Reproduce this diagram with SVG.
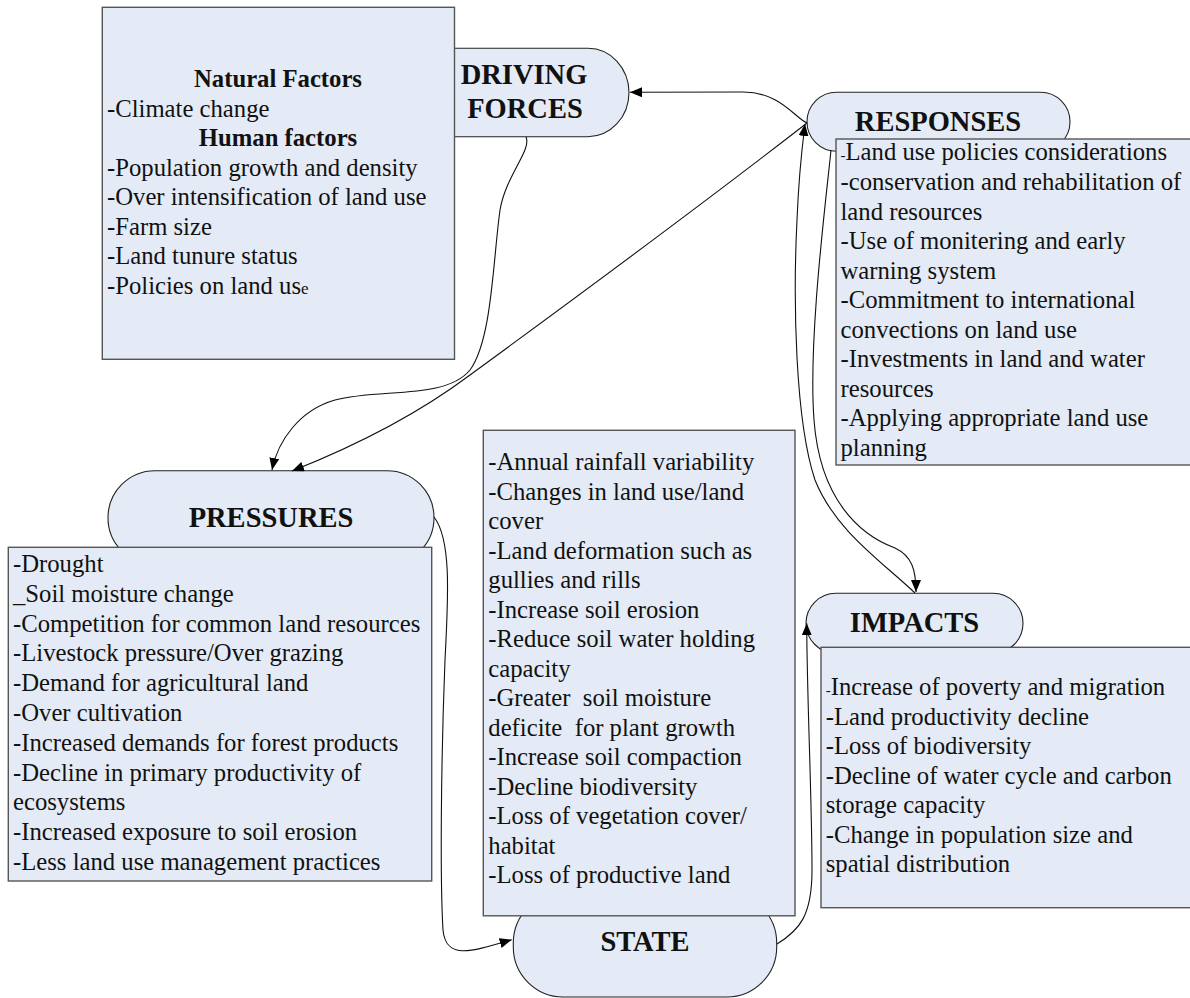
<svg xmlns="http://www.w3.org/2000/svg" width="1190" height="998" viewBox="0 0 1190 998">
<style>
  .shape{fill:#E4EBF6;stroke:#222;stroke-width:1.1}
  .box{fill:#E4EBF6;stroke:#555;stroke-width:1.4}
  .t{font-family:'Liberation Serif','Times New Roman',serif;fill:#111;font-size:24.7px;white-space:pre}
  .h{font-family:'Liberation Serif','Times New Roman',serif;fill:#111;font-size:24.7px;font-weight:bold;text-anchor:middle}
  .title{font-family:'Liberation Serif','Times New Roman',serif;fill:#111;font-size:28.5px;font-weight:bold;text-anchor:middle}
  .c{fill:none;stroke:#111;stroke-width:1.1}
</style>
<defs>
  <marker id="arr" viewBox="0 0 12 10" refX="12" refY="5" markerWidth="12" markerHeight="10" markerUnits="userSpaceOnUse" orient="auto">
    <path d="M0,0 L12,5 L0,10 Z" fill="#000"/>
  </marker>
</defs>

<g id="driving-forces">
  <path class="shape" d="M 420 48.3 H 588 A 41 44.2 0 0 1 588 136.7 H 420 Z"/>
  <rect class="box" x="102.3" y="7.3" width="352.2" height="352"/>
  <text class="h" x="278" y="87">Natural Factors</text>
  <text class="t" x="107" y="116.5">-Climate change</text>
  <text class="h" x="278" y="146">Human factors</text>
  <text class="t" x="107" y="175.5">-Population growth and density</text>
  <text class="t" x="107" y="205">-Over intensification of land use</text>
  <text class="t" x="107" y="234.5">-Farm size</text>
  <text class="t" x="107" y="264">-Land tunure status</text>
  <text class="t" x="107" y="293.5">-Policies on land us<tspan font-size="17">e</tspan></text>
  <text class="title" x="524" y="84">DRIVING</text>
  <text class="title" x="525" y="118">FORCES</text>
</g>

<g id="responses">
  <rect class="shape" x="807" y="92.3" width="263" height="59" rx="29.5"/>
  <rect class="box" x="836" y="139" width="356" height="326"/>
  <text class="title" x="938" y="130.5">RESPONSES</text>
  <text class="t" x="840.5" y="160"><tspan font-size="15">-</tspan>Land use policies considerations</text>
  <text class="t" x="840.5" y="190">-conservation and rehabilitation of</text>
  <text class="t" x="840.5" y="219.5">land resources</text>
  <text class="t" x="840.5" y="249">-Use of monitering and early</text>
  <text class="t" x="840.5" y="278.5">warning system</text>
  <text class="t" x="840.5" y="308">-Commitment to international</text>
  <text class="t" x="840.5" y="337.5">convections on land use</text>
  <text class="t" x="840.5" y="367">-Investments in land and water</text>
  <text class="t" x="840.5" y="396.5">resources</text>
  <text class="t" x="840.5" y="426">-Applying appropriate land use</text>
  <text class="t" x="840.5" y="455.5">planning</text>
</g>

<g id="pressures">
  <rect class="shape" x="108" y="470.7" width="326" height="94" rx="47"/>
  <rect class="box" x="8.3" y="547.3" width="423.4" height="333.7"/>
  <text class="title" x="271" y="527">PRESSURES</text>
  <text class="t" x="13" y="572">-Drought</text>
  <text class="t" x="13" y="601.8">_Soil moisture change</text>
  <text class="t" x="13" y="631.6">-Competition for common land resources</text>
  <text class="t" x="13" y="661.4">-Livestock pressure/Over grazing</text>
  <text class="t" x="13" y="691.2">-Demand for agricultural land</text>
  <text class="t" x="13" y="721">-Over cultivation</text>
  <text class="t" x="13" y="750.8">-Increased demands for forest products</text>
  <text class="t" x="13" y="780.6">-Decline in primary productivity of</text>
  <text class="t" x="13" y="810.4">ecosystems</text>
  <text class="t" x="13" y="840.2">-Increased exposure to soil erosion</text>
  <text class="t" x="13" y="870">-Less land use management practices</text>
</g>

<g id="state">
  <rect class="shape" x="513.3" y="893" width="263.4" height="104" rx="50"/>
  <rect class="box" x="483.3" y="430.3" width="311.7" height="485.5"/>
  <text class="title" x="645" y="951">STATE</text>
  <text class="t" x="488.3" y="470">-Annual rainfall variability</text>
  <text class="t" x="488.3" y="499.5">-Changes in land use/land</text>
  <text class="t" x="488.3" y="529">cover</text>
  <text class="t" x="488.3" y="558.5">-Land deformation such as</text>
  <text class="t" x="488.3" y="588">gullies and rills</text>
  <text class="t" x="488.3" y="617.5">-Increase soil erosion</text>
  <text class="t" x="488.3" y="647">-Reduce soil water holding</text>
  <text class="t" x="488.3" y="676.5">capacity</text>
  <text class="t" x="488.3" y="706">-Greater  soil moisture</text>
  <text class="t" x="488.3" y="735.5">deficite  for plant growth</text>
  <text class="t" x="488.3" y="765">-Increase soil compaction</text>
  <text class="t" x="488.3" y="794.5">-Decline biodiversity</text>
  <text class="t" x="488.3" y="824">-Loss of vegetation cover/</text>
  <text class="t" x="488.3" y="853.5">habitat</text>
  <text class="t" x="488.3" y="883">-Loss of productive land</text>
</g>

<g id="impacts">
  <rect class="shape" x="806" y="593.3" width="217" height="60" rx="30"/>
  <rect class="box" x="821" y="647.3" width="371" height="260.4"/>
  <text class="title" x="914.5" y="632">IMPACTS</text>
  <text class="t" x="825.7" y="695"><tspan font-size="15">-</tspan>Increase of poverty and migration</text>
  <text class="t" x="825.7" y="724.5">-Land productivity decline</text>
  <text class="t" x="825.7" y="754">-Loss of biodiversity</text>
  <text class="t" x="825.7" y="783.5">-Decline of water cycle and carbon</text>
  <text class="t" x="825.7" y="813">storage capacity</text>
  <text class="t" x="825.7" y="842.5">-Change in population size and</text>
  <text class="t" x="825.7" y="872">spatial distribution</text>
</g>

<g id="connectors">
  <path class="c" marker-end="url(#arr)" d="M 807 123 C 795 118, 780 92, 743 92 L 630 92.3"/>
  <path class="c" marker-end="url(#arr)" d="M 526 137 C 532 150, 506 175, 500 210 C 493 260, 492 340, 470 370 C 445 400, 380 388, 335 400 C 300 410, 278 440, 272 470"/>
  <path class="c" marker-end="url(#arr)" d="M 807 123 C 740 175, 600 280, 470 375 C 410 420, 340 452, 292 471"/>
  <path class="c" marker-end="url(#arr)" d="M 434 517 C 452 540, 448 600, 445 660 C 441 760, 440 880, 443 930 C 446 960, 470 952, 511.7 939.7"/>
  <path class="c" marker-end="url(#arr)" d="M 777 944 C 800 930, 812 915, 812 870 C 812 800, 807 700, 806.7 623.3"/>
  <path class="c" marker-end="url(#arr)" d="M 915 593 C 880 560, 835 530, 815 480 C 795 420, 793 300, 797 220 C 799 170, 803 140, 805 124"/>
  <path class="c" marker-end="url(#arr)" d="M 831 150 C 826 200, 808 340, 814 420 C 820 500, 860 535, 895 548 C 912 556, 916 570, 916 592"/>
</g>
</svg>
